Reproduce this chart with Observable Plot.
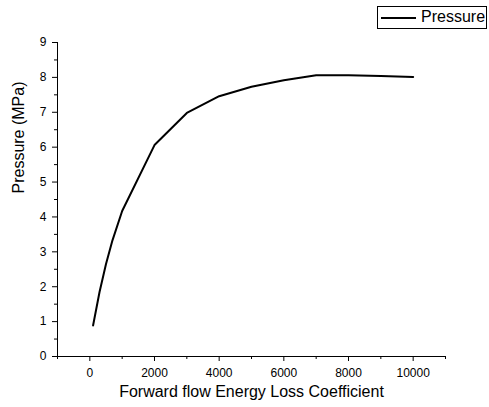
<!DOCTYPE html>
<html>
<head>
<meta charset="utf-8">
<script src="https://cdn.jsdelivr.net/npm/d3@7"></script>
<script src="https://cdn.jsdelivr.net/npm/@observablehq/plot@0.6"></script>
<style>
  html, body { margin: 0; padding: 0; background: #fff; }
  #wrap { position: relative; width: 489px; height: 407px; font-family: "Liberation Sans", Arial, sans-serif; }
  #legend { position: absolute; left: 377px; top: 6px; width: 108px; height: 21px; border: 1px solid #000; background: #fff; box-sizing: content-box; }
  #legend .sw { position: absolute; left: 3px; top: 10px; width: 35px; height: 2px; background: #000; }
  #legend .lb { position: absolute; left: 43px; top: 1px; font-size: 16px; line-height: 18px; color: #000; }
</style>
</head>
<body>
<div id="wrap">
  <div id="chart"></div>
  <div id="legend"><div class="sw"></div><div class="lb">Pressure</div></div>
</div>
<script>
const coeff = [100, 300, 500, 700, 1000, 2000, 3000, 4000, 5000, 6000, 7000, 8000, 9000, 10000];
const pressure = [0.89, 1.85, 2.65, 3.33, 4.17, 6.06, 6.98, 7.46, 7.73, 7.92, 8.06, 8.06, 8.04, 8.01];
const xTicks = [0, 2000, 4000, 6000, 8000, 10000];
const xMinor = [-1000, 1000, 3000, 5000, 7000, 9000, 11000];
const yTicks = [0, 1, 2, 3, 4, 5, 6, 7, 8, 9];
const yMinor = [0.5, 1.5, 2.5, 3.5, 4.5, 5.5, 6.5, 7.5, 8.5];
const xTitle = "Forward flow Energy Loss Coefficient";
const yTitle = "Pressure (MPa)";

const data = coeff.map((c, i) => ({c, p: pressure[i]}));

const chart = Plot.plot({
  width: 489,
  height: 407,
  marginLeft: 57,
  marginRight: 44,
  marginTop: 42,
  marginBottom: 51,
  style: {fontFamily: "'Liberation Sans', Arial, sans-serif", fontSize: "12px", color: "#000", background: "#fff"},
  x: {domain: [-1000, 11000]},
  y: {domain: [0, 9]},
  marks: [
    Plot.axisX({ticks: xTicks, tickSize: 5, tickPadding: 7, tickFormat: d => String(d), label: null, fontSize: 12}),
    Plot.axisX({ticks: xMinor, tickSize: 3, tickFormat: () => "", label: null}),
    Plot.axisY({ticks: yTicks, tickSize: 5, tickPadding: 6, tickFormat: d => String(d), label: null, fontSize: 12}),
    Plot.axisY({ticks: yMinor, tickSize: 3, tickFormat: () => "", label: null}),
    Plot.ruleY([0], {x1: -1000, x2: 11000, stroke: "#000", strokeWidth: 1}),
    Plot.ruleX([-1000], {y1: 0, y2: 9, stroke: "#000", strokeWidth: 1}),
    Plot.line(data, {x: "c", y: "p", stroke: "#000", strokeWidth: 2}),
    Plot.text([xTitle], {frameAnchor: "bottom", dy: 40, fontSize: 16, fill: "#000"}),
    Plot.text([yTitle], {frameAnchor: "left", rotate: -90, dx: -39, dy: -6, fontSize: 16, fill: "#000"})
  ]
});
document.getElementById("chart").appendChild(chart);
</script>
</body>
</html>
